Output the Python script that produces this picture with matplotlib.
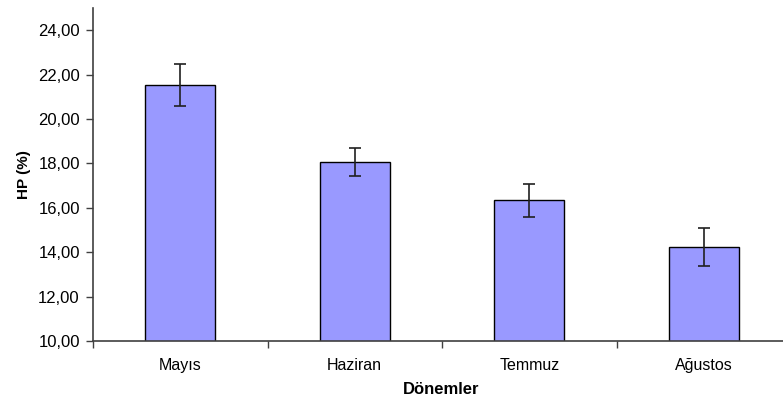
import numpy as np
import matplotlib.pyplot as plt
from matplotlib.ticker import FuncFormatter

# ---------- data ----------
donemler = ['Mayıs', 'Haziran', 'Temmuz', 'Ağustos']
hp_mean = [21.55, 18.07, 16.33, 14.25]
hp_err = [0.95, 0.62, 0.73, 0.86]

plt.rcParams['font.family'] = ['Liberation Sans', 'DejaVu Sans']

fig = plt.figure(figsize=(7.83, 4.08), dpi=100)
# axes spans a bit past the right edge, like the cropped original
ax = fig.add_axes([93/783, 1 - 341/408, 698/783, (341 - 8)/408])

x = np.arange(len(donemler))
ax.bar(x, hp_mean, width=0.4, color='#9999FF', edgecolor='black', linewidth=1.0,
       yerr=hp_err, capsize=4.5, error_kw=dict(ecolor='#202020', elinewidth=1.2, capthick=1.2),
       zorder=2)

ax.set_xlim(-0.5, len(donemler) - 0.5)
ax.set_ylim(10, 25)
ax.set_yticks(np.arange(10, 25, 2))
ax.yaxis.set_major_formatter(FuncFormatter(lambda v, p: f'{v:.2f}'.replace('.', ',')))

ax.set_xticks(x)
ax.set_xticklabels(donemler)
ax.set_xticks(np.arange(-0.5, len(donemler), 1), minor=True)
ax.tick_params(axis='x', which='major', length=0, pad=12, labelsize=11.5)
ax.tick_params(axis='x', which='minor', length=5, width=1, color='#404040')
ax.tick_params(axis='y', length=5, width=1, color='#404040', labelsize=12, pad=4.5)

for s in ['top', 'right']:
    ax.spines[s].set_visible(False)
for s in ['left', 'bottom']:
    ax.spines[s].set_color('#404040')
    ax.spines[s].set_linewidth(1.2)

ax.set_ylabel('HP (%)', fontsize=11, fontweight='bold', labelpad=5)
ax.set_xlabel('Dönemler', fontsize=12, fontweight='bold')
ax.xaxis.set_label_coords((441 - 93) / 698, -0.123)

plt.savefig('out.png', dpi=100)
